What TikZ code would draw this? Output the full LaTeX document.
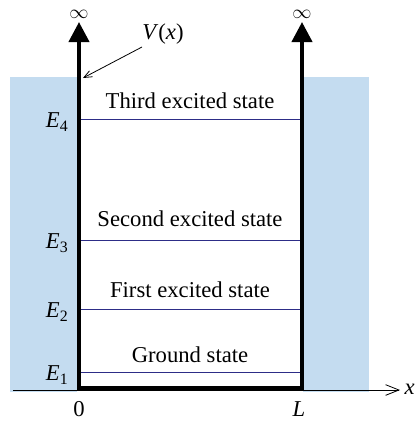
\documentclass[tikz,border=0pt]{standalone}
\usepackage{fontspec}
\setmainfont{Liberation Serif}
\usetikzlibrary{arrows.meta,positioning}
\definecolor{wallblue}{RGB}{196,220,240}
\definecolor{levelblue}{RGB}{45,45,135}

\begin{document}
\begin{tikzpicture}[x=0.75pt,y=-0.75pt,font=\fontsize{17}{19}\selectfont,
   wall/.style={line width=3pt,line join=miter},
   level/.style={levelblue,line width=0.6pt},
   elab/.style={anchor=east,inner sep=1pt},
   slab/.style={inner sep=1pt}]
  \useasboundingbox (0,0) rectangle (415,421);
  % shaded walls outside the box
  \fill[wallblue] (10,77) rectangle (77,392);
  \fill[wallblue] (303,77) rectangle (369,392);
  % x axis
  \coordinate (xa) at (13,390);
  \coordinate (xb) at (400,390);
  \draw[line width=0.6pt,-{Straight Barb[length=10pt,width=8pt]}] (xa) -- (xb);
  \node[anchor=west,inner sep=1pt] (xlab) at (403,389) {\textit{x}};
  % the well
  \coordinate (o) at (79,388);
  \coordinate (l) at (302,388);
  \coordinate (ltop) at (79,22);
  \coordinate (rtop) at (302,22);
  \draw[wall,{Triangle[length=15pt,width=15pt]}-{Triangle[length=15pt,width=15pt]}]
     (ltop) -- (o) -- (l) -- (rtop);
  \node[inner sep=0pt] (linf) at (79,14) {\fontsize{15}{15}\selectfont$\infty$};
  \node[inner sep=0pt] (rinf) at (302,14) {\fontsize{15}{15}\selectfont$\infty$};
  \node (zero) at (79,409) {0};
  \node (ell) at (299,409) {\textit{L}};
  % energy levels
  \foreach \n/\y/\txt/\ty in {4/119/Third excited state/101,
                              3/240/Second excited state/219,
                              2/309/First excited state/290,
                              1/372/Ground state/355}{
    \coordinate (a\n) at (81,\y);
    \coordinate (b\n) at (300,\y);
    \draw[level] (a\n) -- (b\n);
    \node[elab] (e\n) at (70,\y+3) {\textit{E}\textsubscript{\n}};
    \node[slab] (s\n) at (190,\ty) {\txt};
  }
  % potential label
  \node[inner sep=1pt] (vx) at (163,34) {\textit{V}(\textit{x})};
  \coordinate (vtip) at (83,78);
  \draw[line width=0.6pt,-{Straight Barb[length=6pt,width=5pt]}] (142,47) -- (vtip);
\end{tikzpicture}
\end{document}
